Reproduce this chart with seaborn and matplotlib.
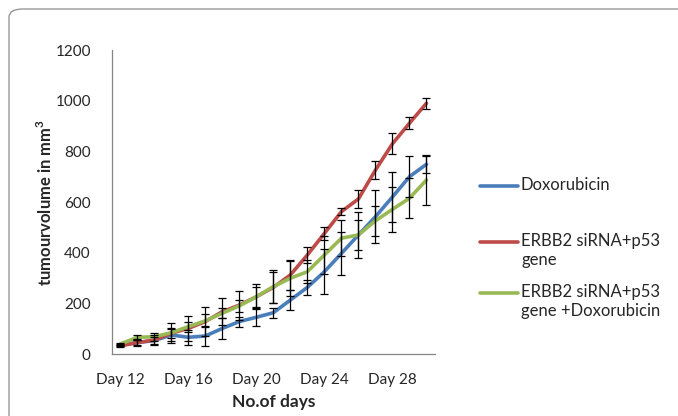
import matplotlib
matplotlib.use("Agg")
import matplotlib.pyplot as plt
from matplotlib.patches import FancyBboxPatch
from matplotlib.lines import Line2D
import seaborn as sns
import pandas as pd
import numpy as np

days = [f"Day {d}" for d in range(12, 31)]
doxorubicin = [35, 45, 53, 75, 66, 71, 101, 128, 145, 163, 213, 263, 325, 397, 470, 542, 620, 700, 749]
sirna_p53 = [32, 45, 55, 82, 101, 128, 167, 193, 226, 263, 312, 391, 476, 562, 612, 726, 830, 911, 990]
sirna_p53_dox = [39, 66, 68, 84, 108, 131, 161, 190, 226, 266, 299, 325, 391, 457, 470, 526, 571, 615, 687]
err_dox = [5, 10, 15, 25, 30, 40, 40, 20, 35, 20, 40, 30, 88, 85, 92, 105, 100, 82, 33]
err_p53 = [5, 14, 20, 40, 50, 56, 53, 57, 40, 60, 60, 33, 25, 15, 35, 37, 42, 23, 21]
err_p53_dox = [5, 10, 15, 20, 20, 25, 20, 23, 50, 66, 70, 45, 75, 70, 60, 60, 88, 80, 97]
labels_x = ["Day 12", "Day 16", "Day 20", "Day 24", "Day 28"]

series_names = ["Doxorubicin", "ERBB2 siRNA+p53\ngene", "ERBB2 siRNA+p53\ngene +Doxorubicin"]
series_vals = [doxorubicin, sirna_p53, sirna_p53_dox]
series_err = [err_dox, err_p53, err_p53_dox]
colors = ["#4A7EBB", "#BE4B48", "#98B954"]

rows = []
for name, vals in zip(series_names, series_vals):
    for i, (d, v) in enumerate(zip(days, vals)):
        rows.append({"idx": i, "day": d, "value": v, "series": name})
df = pd.DataFrame(rows)

sns.set_style("white")
plt.rcParams['font.family'] = ['Lato', 'DejaVu Sans']

fig = plt.figure(figsize=(6.78, 4.16), dpi=100)
W, H = 678, 416
ax = fig.add_axes([111.7 / W, (H - 354) / H, (435 - 111.7) / W, 304 / H])

# chart border
border = FancyBboxPatch((9 / W, -0.05), 1.2, (H - 9) / H + 0.05,
                        boxstyle="round,pad=0,rounding_size=0.02",
                        transform=fig.transFigure, fill=False,
                        edgecolor="#8c8c8c", linewidth=0.9, zorder=0)
fig.patches.append(border)

sns.lineplot(data=df, x="idx", y="value", hue="series", palette=colors,
             hue_order=series_names, linewidth=2.6, ax=ax, legend=False,
             zorder=2)
for name, vals, errs in zip(series_names, series_vals, series_err):
    ax.errorbar(np.arange(len(days)), vals, yerr=errs, fmt="none",
                ecolor="black", elinewidth=0.9, capsize=3, capthick=0.9,
                zorder=3)

ax.set_xlim(-0.5, len(days) - 0.5)
ax.set_ylim(0, 1200)
ax.set_yticks(np.arange(0, 1201, 200))
ax.set_xticks(np.arange(-0.5, len(days), 1.0))
ax.set_xticklabels([])
pos = [days.index(l) for l in labels_x]
ax.set_xticks(pos, minor=True)
ax.set_xticklabels(labels_x, minor=True)
ax.tick_params(axis="x", which="minor", length=0, labelsize=11, pad=14)
ax.tick_params(axis="x", which="major", direction="out", length=5,
               color="#868686", width=0.9)
ax.tick_params(axis="y", direction="out", length=5, color="#868686",
               width=0.9, labelsize=11, pad=10)
for s in ["top", "right"]:
    ax.spines[s].set_visible(False)
for s in ["left", "bottom"]:
    ax.spines[s].set_color("#868686")
    ax.spines[s].set_linewidth(0.9)

ax.set_xlabel("No.of days", fontsize=12.5, fontweight="bold", labelpad=5)
ax.set_ylabel("tumourvolume in mm$^\\mathregular{3}$", fontsize=12,
              fontweight="bold", labelpad=0)

# manual legend (Excel style)
leg_y = [186, 242, 293]
for y, c, name in zip(leg_y, colors, series_names):
    fig.add_artist(Line2D([480 / W, 518 / W], [(H - y) / H, (H - y) / H],
                          color=c, linewidth=2.6, transform=fig.transFigure))
    fig.text(521 / W, (H - y) / H + 9 / H, name, fontsize=12, va="top",
             ha="left", linespacing=1.25)

fig.savefig("out.png", dpi=100)
